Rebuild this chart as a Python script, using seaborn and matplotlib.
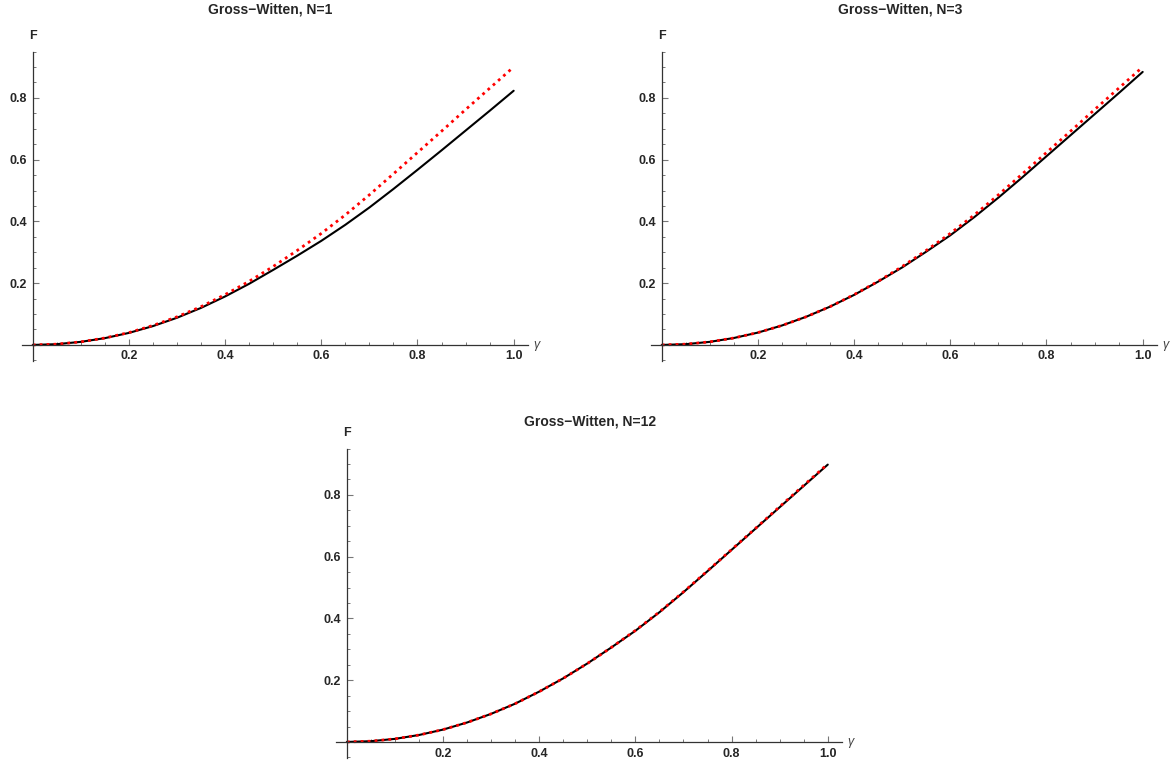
import matplotlib
matplotlib.use("Agg")
import matplotlib.pyplot as plt
import seaborn as sns
from matplotlib.ticker import MultipleLocator, FixedLocator

# ── Data ────────────────────────────────────────────────────────────────────
gamma = [0.00, 0.05, 0.10, 0.15, 0.20, 0.25, 0.30, 0.35, 0.40, 0.45, 0.50,
         0.55, 0.60, 0.65, 0.70, 0.75, 0.80, 0.85, 0.90, 0.95, 1.00]

# large-N result (red dotted), same in every panel
f_large_n = [0.0, 0.0025, 0.010, 0.0225, 0.040, 0.063, 0.091, 0.124, 0.163, 0.206, 0.254,
             0.306, 0.361, 0.421, 0.486, 0.554, 0.623, 0.692, 0.762, 0.831, 0.900]

# finite-N results (black solid)
f_n1 = [0.0, 0.0025, 0.010, 0.022, 0.039, 0.061, 0.088, 0.120, 0.157, 0.198, 0.243,
        0.289, 0.337, 0.389, 0.445, 0.505, 0.567, 0.630, 0.694, 0.758, 0.823]
f_n3 = [0.0, 0.0025, 0.010, 0.0225, 0.040, 0.063, 0.091, 0.124, 0.162, 0.205, 0.251,
        0.302, 0.355, 0.414, 0.477, 0.543, 0.611, 0.679, 0.747, 0.815, 0.884]
f_n12 = [0.0, 0.0025, 0.010, 0.0225, 0.040, 0.063, 0.091, 0.124, 0.163, 0.206, 0.254,
         0.306, 0.360, 0.420, 0.485, 0.553, 0.622, 0.691, 0.760, 0.829, 0.898]

titles = ["Gross\u2212Witten, N=1", "Gross\u2212Witten, N=3", "Gross\u2212Witten, N=12"]
x_ticks = [0.2, 0.4, 0.6, 0.8, 1.0]
y_ticks = [0.2, 0.4, 0.6, 0.8]

# ── Style ───────────────────────────────────────────────────────────────────
sns.set_style("ticks")
plt.rcParams["font.family"] = ["Liberation Sans", "DejaVu Sans"]

fig = plt.figure(figsize=(11.72, 7.60), dpi=100)

# axes boxes in figure fraction, plus title centre in pixels (x, y from top)
panels = [
    ([0.0189, 0.525, 0.4317, 0.4072], f_n1,  titles[0], (270, 9)),
    ([0.5556, 0.525, 0.4317, 0.4072], f_n3,  titles[1], (900, 9)),
    ([0.2869, 0.0026, 0.4317, 0.4072], f_n12, titles[2], (590, 422)),
]

W, H = 1172, 760
AX_GREY = "#333333"
TICK_GREY = "#777777"

for box, f_black, title, (tx, ty) in panels:
    ax = fig.add_axes(box)
    sns.lineplot(x=gamma, y=f_black, ax=ax, color="black", lw=1.5)
    sns.lineplot(x=gamma, y=f_large_n, ax=ax, color="#ff0000", lw=2.0,
                 linestyle=(0, (1, 1.5)), dash_capstyle="butt")

    ax.set_xlim(-0.022, 1.03)
    ax.set_ylim(-0.052, 0.95)

    for side in ["top", "right"]:
        ax.spines[side].set_visible(False)
    ax.spines["left"].set_position(("data", 0))
    ax.spines["bottom"].set_position(("data", 0))
    for side in ["left", "bottom"]:
        ax.spines[side].set_color(AX_GREY)
        ax.spines[side].set_linewidth(0.9)

    ax.xaxis.set_major_locator(FixedLocator(x_ticks))
    ax.yaxis.set_major_locator(FixedLocator(y_ticks))
    ax.xaxis.set_minor_locator(MultipleLocator(0.05))
    ax.yaxis.set_minor_locator(MultipleLocator(0.05))
    ax.set_xticklabels([f"{t:.1f}" for t in x_ticks])
    ax.set_yticklabels([f"{t:.1f}" for t in y_ticks])

    ax.tick_params(which="both", bottom=True, left=True, top=False, right=False)
    ax.tick_params(which="major", direction="in", length=4.5, width=0.8,
                   color=TICK_GREY, labelsize=9, pad=4)
    ax.tick_params(which="minor", direction="in", length=2.5, width=0.7,
                   color=TICK_GREY)
    for lab in ax.get_xticklabels() + ax.get_yticklabels():
        lab.set_fontweight("bold")

    ax.set_xlabel("")
    ax.set_ylabel("")
    ax.patch.set_alpha(0)

    # axis labels placed like Mathematica's AxesLabel
    ax.annotate("F", xy=(0, 0.95), xycoords="data", xytext=(0, 7),
                textcoords="offset points", ha="center", va="bottom",
                fontsize=9, fontweight="bold")
    ax.annotate("\u03b3", xy=(1.03, 0), xycoords="data", xytext=(4, 0),
                textcoords="offset points", ha="left", va="center",
                fontsize=9, color="#444444", style="italic")

    fig.text(tx / W, 1 - ty / H, title, ha="center", va="center",
             fontsize=10, fontweight="bold")

fig.savefig("out.png", dpi=100)
